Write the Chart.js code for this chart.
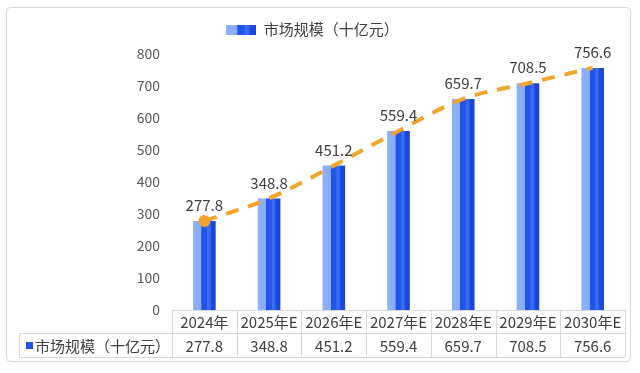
<!DOCTYPE html>
<html><head><meta charset="utf-8">
<script src="https://cdn.jsdelivr.net/npm/chart.js@4/dist/chart.umd.min.js"></script>
<style>html,body{margin:0;padding:0;background:#fff;}#wrap{width:640px;height:373px;}</style>
</head><body><div id="wrap"><canvas id="c" width="640" height="373"></canvas></div>
<script>
const categories = ['2024年','2025年E','2026年E','2027年E','2028年E','2029年E','2030年E'];
const marketSize = [277.8, 348.8, 451.2, 559.4, 659.7, 708.5, 756.6];
const seriesName = '市场规模（十亿元）';
const yMin = 0, yMax = 800, yStep = 100;

const FONT = "'Noto Sans CJK SC', 'Liberation Sans', sans-serif";
const TXT = '#404040';
const BORDER = '#d9d9d9';

function barGradient(c2d, x0, x1) {
  const g = c2d.createLinearGradient(x0, 0, x1, 0);
  g.addColorStop(0, '#8fb2f8');
  g.addColorStop(0.36, '#86abf6');
  g.addColorStop(0.38, '#2152e6');
  g.addColorStop(0.6, '#2456ec');
  g.addColorStop(0.64, '#3d70f4');
  g.addColorStop(0.76, '#3566f0');
  g.addColorStop(0.8, '#1c49dc');
  g.addColorStop(1, '#1a44d6');
  return g;
}

// legend icon canvas
const icon = document.createElement('canvas');
icon.width = 30; icon.height = 10;
(function(){ const c = icon.getContext('2d'); c.fillStyle = barGradient(c, 0, 30); c.fillRect(0,0,30,10); })();

const tablePlugin = {
  id: 'tablePlugin',
  beforeInit(chart) {
    if (chart.legend) {
      const orig = chart.legend.fit;
      chart.legend.fit = function() { orig.call(this); this.height += 7; };
    }
  },
  beforeDraw(chart) {
    const c = chart.ctx;
    c.save();
    c.fillStyle = '#fff';
    c.fillRect(0,0,chart.width,chart.height);
    c.strokeStyle = BORDER; c.lineWidth = 1;
    const r = 4, x0 = 6.5, y0 = 7.5, x1 = 630.5, y1 = 361.5;
    c.beginPath();
    c.moveTo(x0+r,y0); c.lineTo(x1-r,y0); c.quadraticCurveTo(x1,y0,x1,y0+r);
    c.lineTo(x1,y1-r); c.quadraticCurveTo(x1,y1,x1-r,y1);
    c.lineTo(x0+r,y1); c.quadraticCurveTo(x0,y1,x0,y1-r);
    c.lineTo(x0,y0+r); c.quadraticCurveTo(x0,y0,x0+r,y0);
    c.stroke();
    c.restore();
  },
  afterDraw(chart) {
    const c = chart.ctx, xs = chart.scales.x, area = chart.chartArea;
    const n = categories.length;
    const left = area.left, right = area.right;
    const cw = (right - left) / n;
    const rTop = area.bottom, rMid = 333, rBot = 357, tLeft = 19;
    c.save();
    c.strokeStyle = BORDER; c.lineWidth = 1;
    c.beginPath();
    c.moveTo(left, rTop + 0.5); c.lineTo(right, rTop + 0.5);
    c.moveTo(tLeft, rMid + 0.5); c.lineTo(right, rMid + 0.5);
    c.moveTo(tLeft, rBot + 0.5); c.lineTo(right, rBot + 0.5);
    c.moveTo(tLeft + 0.5, rMid); c.lineTo(tLeft + 0.5, rBot);
    for (let i = 0; i <= n; i++) {
      const x = Math.round(left + i * cw) + 0.5;
      c.moveTo(x, rTop); c.lineTo(x, rBot);
    }
    c.stroke();
    c.fillStyle = TXT;
    c.font = '15px ' + FONT;
    c.textAlign = 'center'; c.textBaseline = 'middle';
    for (let i = 0; i < n; i++) {
      const x = xs.getPixelForValue(i);
      c.fillText(categories[i], x, (rTop + rMid) / 2 + 1);
      c.fillText(marketSize[i].toFixed(1), x, (rMid + rBot) / 2 + 1);
    }
    // left header cell
    c.fillStyle = '#2152e6';
    c.fillRect(26, 342, 7, 7);
    c.fillStyle = TXT;
    c.textAlign = 'left';
    c.fillText(seriesName, 35, (rMid + rBot) / 2 + 1);
    // data labels above bars
    const meta = chart.getDatasetMeta(0);
    c.font = '15px ' + FONT;
    c.textBaseline = 'bottom'; c.textAlign = 'center';
    meta.data.forEach((el, i) => {
      c.fillText(marketSize[i].toFixed(1), el.x, el.y - 8);
    });
    c.restore();
  }
};

new Chart(document.getElementById('c'), {
  data: {
    labels: categories,
    datasets: [
      {
        type: 'bar',
        label: seriesName,
        data: marketSize,
        barPercentage: 0.35,
        categoryPercentage: 1,
        backgroundColor: (ctx) => {
          const chart = ctx.chart, xs = chart.scales && chart.scales.x;
          if (!xs || ctx.type !== 'data' || !chart.chartArea) return '#2152e6';
          const cx = xs.getPixelForValue(ctx.dataIndex);
          const w = (chart.chartArea.right - chart.chartArea.left) / categories.length * 0.35;
          return barGradient(chart.ctx, cx - w/2, cx + w/2);
        },
        borderWidth: 0,
        order: 2
      },
      {
        type: 'line',
        label: 'trend',
        data: marketSize,
        borderColor: '#f0a62c',
        borderWidth: 4,
        borderDash: [13, 10],
        tension: 0.4,
        cubicInterpolationMode: 'monotone',
        fill: false,
        pointRadius: [6, 0, 0, 0, 0, 0, 0],
        pointBackgroundColor: '#f0a62c',
        pointBorderWidth: 0,
        order: 1
      }
    ]
  },
  options: {
    responsive: false,
    animation: false,
    layout: { padding: { left: 0, right: 15, top: 12, bottom: 63 } },
    plugins: {
      tooltip: { enabled: false },
      legend: {
        position: 'top',
        labels: {
          usePointStyle: true,
          pointStyleWidth: 30,
          boxHeight: 10,
          font: { size: 15, family: FONT },
          color: TXT,
          padding: 10,
          generateLabels: () => [{ text: seriesName, pointStyle: icon, fontColor: TXT, datasetIndex: 0, hidden: false, lineWidth: 0 }]
        }
      }
    },
    scales: {
      x: { display: false, offset: true, grid: { display: false } },
      y: {
        min: yMin, max: yMax,
        afterFit: (s) => { s.width = 172; },
        border: { display: false },
        grid: { display: false, drawTicks: false },
        ticks: { stepSize: yStep, padding: 12, color: '#595959', font: { size: 14, family: FONT } }
      }
    }
  },
  plugins: [tablePlugin]
});
</script>
</body></html>
